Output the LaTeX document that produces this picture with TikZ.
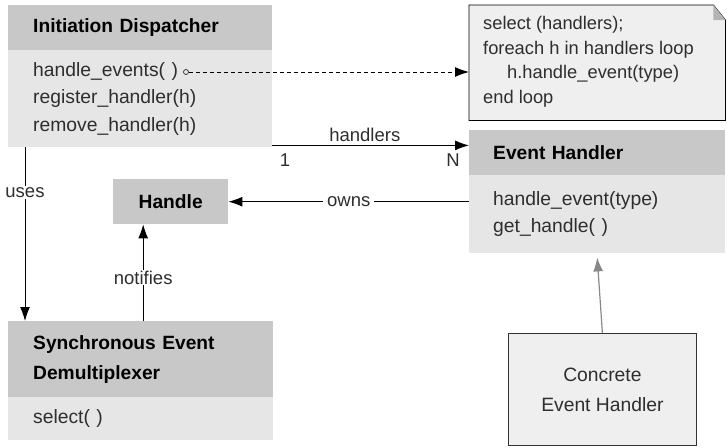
\documentclass[tikz,border=0pt]{standalone}
\usepackage{fontspec}
\setmainfont{Liberation Sans}
\usetikzlibrary{arrows.meta}
\definecolor{hdrgray}{HTML}{C8C8C8}
\definecolor{bodygray}{HTML}{E6E6E6}
\definecolor{notegray}{HTML}{EFEFEF}
\definecolor{foldgray}{HTML}{B4B4B4}
\definecolor{txt}{HTML}{2E2E2E}
\definecolor{inhgray}{HTML}{888888}

\begin{document}
\begin{tikzpicture}[x=1pt,y=-1pt,
  hdr/.style={fill=hdrgray, draw=none, anchor=north west, inner xsep=25pt, inner ysep=0pt,
    align=left, text=black, font=\fontsize{19.2}{30}\selectfont\bfseries},
  bdy/.style={fill=bodygray, draw=none, anchor=north west, inner xsep=25pt, inner ysep=0pt,
    align=left, text=txt, font=\fontsize{19.3}{27.5}\selectfont},
  lbl/.style={fill=white, inner xsep=4pt, inner ysep=1pt, text=txt, font=\fontsize{18.5}{20}\selectfont},
  plain/.style={inner sep=0pt, text=txt, font=\fontsize{18.5}{20}\selectfont},
  arr/.style={-{Latex[length=14pt,width=10pt]}, line width=1pt},
  garr/.style={-{Latex[length=14pt,width=10pt]}, line width=1.2pt, draw=inhgray}]

\useasboundingbox (0,0) rectangle (727,447);

% Initiation Dispatcher class
\node[hdr, text width=214pt, minimum height=45pt] (idh) at (8,5) {Initiation Dispatcher};
\node[bdy, text width=214pt, minimum height=97pt] (idb) at (8,50)
  {handle\_events( )\\register\_handler(h)\\remove\_handler(h)};

% Note attached to handle_events
\node[anchor=north west, minimum width=256pt, minimum height=115pt, inner sep=0pt] (note) at (469,5) {};
\draw[fill=notegray, line width=0.8pt] (note.north west) -- ([xshift=-12pt]note.north east)
  -- ([yshift=-15pt]note.north east) -- (note.south east) -- (note.south west) -- cycle;
\fill[foldgray] ([xshift=-12pt]note.north east) -- ([yshift=-15pt]note.north east)
  -- ([xshift=-12pt,yshift=-15pt]note.north east) -- cycle;
\node[anchor=west, align=left, inner sep=0pt, text=txt, font=\fontsize{18.3}{24.8}\selectfont]
  (notetxt) at ([xshift=14pt,yshift=1pt]note.west)
  {select (handlers);\\foreach h in handlers loop\\\hspace*{24pt}h.handle\_event(type)\\end loop};

% Event Handler class
\node[hdr, text width=208pt, inner xsep=24pt, minimum height=45pt] (ehh) at (469,130) {Event Handler};
\node[bdy, text width=208pt, inner xsep=24pt, minimum height=78pt] (ehb) at (469,175)
  {handle\_event(type)\\get\_handle( )};

% Handle
\node[fill=hdrgray, anchor=north west, minimum width=115pt, minimum height=45pt, inner sep=0pt,
  text=black, font=\fontsize{19.2}{22}\selectfont\bfseries] (hdl) at (113,179) {Handle};

% Synchronous Event Demultiplexer class
\node[hdr, text width=215pt, minimum height=76pt] (sdh) at (8,321) {Synchronous Event\\Demultiplexer};
\node[bdy, text width=215pt, minimum height=43pt] (sdb) at (8,397) {select( )};

% Concrete Event Handler
\node[draw=black!80, fill=notegray, line width=0.8pt, anchor=north west, minimum width=188pt,
  minimum height=112pt, align=center, text=txt, font=\fontsize{19.3}{30}\selectfont]
  (ceh) at (508,333) {Concrete\\Event Handler};

% handle_events -> note
\node[circle, draw=txt, line width=0.7pt, inner sep=0pt, minimum size=5pt] (hec) at (186,72) {};
\draw[arr, dash pattern=on 4pt off 3pt] (hec.east) -- (hec.east -| note.west);

% handlers association
\coordinate (hs) at ([yshift=2pt]idb.south east);
\draw[arr] (hs) -- (hs -| ehh.west) node[pos=0.47, above=3pt, plain] {handlers};
\node[plain] (one) at (285,160) {1};
\node[plain] (many) at (453,160) {N};

% owns
\draw[arr] (hdl.east -| ehb.west) -- (hdl.east) node[midway, lbl] {owns};

% uses
\coordinate (us) at ([xshift=17pt]idb.south west);
\draw[arr] (us) -- (us |- sdh.north) node[pos=0.26, lbl, inner xsep=1pt] {uses};

% notifies
\coordinate (nt) at ([xshift=-27.5pt]hdl.south);
\draw[arr] (nt |- sdh.north) -- (nt) node[pos=0.45, lbl, inner xsep=1pt] {notifies};

% inheritance
\draw[garr] (ceh.north) -- ([yshift=-4pt]ehb.south);
\end{tikzpicture}
\end{document}
